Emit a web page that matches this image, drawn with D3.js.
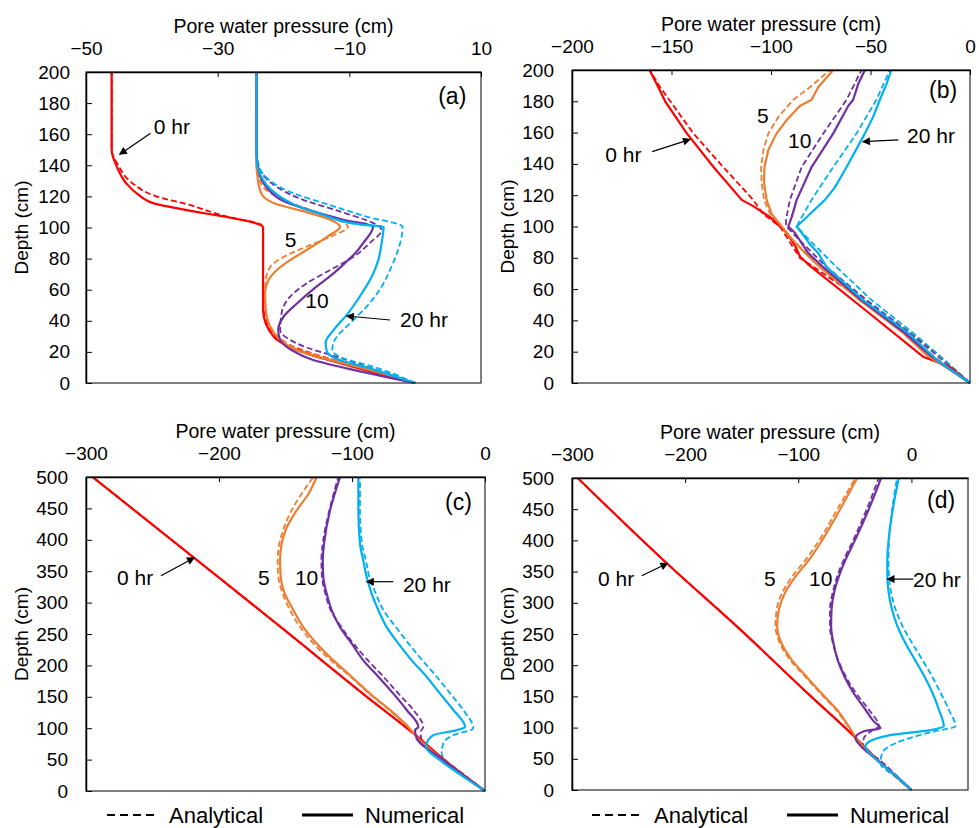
<!DOCTYPE html>
<html>
<head>
<meta charset="utf-8">
<script src="https://cdn.jsdelivr.net/npm/d3@7"></script>
<style>
  body { margin: 0; background: #fff; }
  text { font-family: Arial, "Liberation Sans", sans-serif; fill: #000; }
</style>
</head>
<body>
<script>
// series are [pressure (cm), depth (cm)] pairs
var timeLabels = ["0 hr", "5", "10", "20 hr"];
var colors = ["#ff0000", "#ed7d31", "#7030a0", "#00b0f0"];

// ---- panel (a)
var aXTicks = [-50, -30, -10, 10];
var aYTicks = [0, 20, 40, 60, 80, 100, 120, 140, 160, 180, 200];
var aNum0 = [[-46.1,200],[-46.1,150],[-45.3,139],[-43.8,128],[-42.3,122],[-39.3,115],[-35.7,112],[-23.1,100],[-23.1,57],[-23.1,47],[-21.5,29.8],[-16.5,19],[-11.4,12.7],[0,0]];
var aAna0 = [[-46.1,200],[-46.1,150],[-45.1,140],[-42.8,128],[-39.3,120],[-34.7,115],[-28.6,107],[-23.5,102],[-23.1,100],[-23.1,57],[-23.0,47],[-21.3,30],[-16,19.5],[-10.8,13],[0,0]];
var aNum5 = [[-24.1,200],[-24.1,140],[-24.0,135],[-23.7,126],[-23.1,120],[-21,115],[-17.5,111],[-12.9,105],[-11.4,100.5],[-13.4,94],[-16.5,85.5],[-19,79],[-21,72.7],[-22.3,66],[-22.8,57.7],[-22.7,47],[-22,36],[-20.5,27.7],[-18,21],[-12.9,14.8],[-6.9,8.4],[0,0]];
var aAna5 = [[-24.1,200],[-24.1,140],[-23.6,130],[-23.1,126],[-19.5,117],[-14.5,109],[-10.2,100.5],[-12.9,94],[-16.5,87.7],[-20,81],[-22,74.8],[-22.7,66],[-22.8,57],[-22.7,47],[-22,36],[-20.3,28],[-17.6,21.5],[-12.5,15],[-6.6,8.6],[0,0]];
var aNum10 = [[-24.1,200],[-24.1,150],[-23.7,135],[-22.6,126],[-20,117],[-16,111],[-10.9,105],[-6.4,100.5],[-7.9,90],[-9.1,83.4],[-10.2,79],[-12.4,70.5],[-15,62],[-18,51],[-20,42.6],[-20.8,34],[-20.5,27.7],[-18.8,21.2],[-15.5,14.8],[-10.4,9.4],[0,0]];
var aAna10 = [[-24.1,200],[-24.1,145],[-23.3,135],[-21,126],[-16.5,117],[-11.9,111],[-5.1,98.4],[-6.9,90],[-9.4,81],[-12.9,72.7],[-16.5,64],[-19,55.5],[-20.3,44.8],[-20.5,34],[-18,25.5],[-10.4,14.8],[0,0]];
var aNum20 = [[-24.1,200],[-24.1,145],[-23.3,132],[-21.8,124],[-18.5,115],[-14.5,109],[-8.4,102],[-4.8,100.5],[-5.1,90],[-5.6,79],[-6.6,68.4],[-8.1,57.7],[-10.2,44.8],[-12.4,34],[-13.6,26],[-13.4,20],[-11.9,15.5],[-6.9,9.4],[0,0]];
var aAna20 = [[-24.1,200],[-24.1,150],[-23.7,139],[-22,130],[-18.5,122],[-13.4,115],[-7.4,107],[-1.9,100.5],[-2.6,85.5],[-3.6,74.8],[-5.1,62],[-7.4,49],[-9.9,38.4],[-12.2,27.7],[-12.6,21.2],[-10.9,15.9],[-6.4,10.5],[0,0]];

// ---- panel (b)
var bXTicks = [-200, -150, -100, -50, 0];
var bYTicks = [0, 20, 40, 60, 80, 100, 120, 140, 160, 180, 200];
var bNum0 = [[-161,200],[-157,190],[-153.2,180],[-142.3,159.5],[-128.9,138],[-114.7,117],[-108.9,113],[-100.5,106],[-92.1,96],[-88,88],[-85.5,81],[-81.5,76],[-52,46],[-23.6,16.8],[-10.2,10.4],[0,0]];
var bAna0 = [[-161,200],[-155.7,189],[-139,159.5],[-124,138],[-108.9,117],[-104,108],[-95.5,100],[-85.5,80],[-38.6,40],[-17.7,20],[0,0]];
var bNum5 = [[-68.7,200],[-76.3,189],[-79.6,181],[-85.5,177],[-92.1,168],[-97.2,159.5],[-101.3,149],[-103.3,138],[-103.5,128],[-102.2,117],[-99.7,108],[-94.6,100],[-88.8,91],[-82.9,83],[-75.4,74],[-55.4,53],[-33.6,32],[-21,17],[-12,10],[0,0]];
var bAna5 = [[-70.4,200],[-80.4,189],[-88.8,181],[-96.3,170],[-101.3,159.5],[-103.8,149],[-105,138],[-104.7,128],[-103.5,117],[-99.7,106],[-95.5,100],[-88,90],[-80,80],[-54,53],[-32,32],[-19,18],[0,0]];
var bNum10 = [[-52.8,200],[-56.2,191],[-58.7,181],[-61.2,177],[-68.7,159.5],[-79.6,138],[-87.1,117],[-89.6,106],[-91.3,100],[-88,96],[-81.3,83],[-73.7,74],[-54.5,53],[-32.8,32],[-19.4,17],[0,0]];
var bAna10 = [[-54.5,200],[-62,181],[-73.7,159.5],[-84.6,138],[-90.5,117],[-92.5,104],[-92.3,100],[-85.5,91],[-72,74],[-52,53],[-30.3,32],[-16,17],[0,0]];
var bNum20 = [[-39.5,200],[-42,191],[-45.3,181],[-48.7,170],[-52.8,159.5],[-62,138],[-67.9,125],[-72.9,117],[-80.4,108],[-87.1,100],[-84.6,96],[-80,88],[-76.3,83],[-72,74],[-53.7,53],[-31.1,32],[-16.9,15],[0,0]];
var bAna20 = [[-40.3,200],[-47,181],[-57,159.5],[-68.7,138],[-79.6,117],[-85.5,104],[-87.1,100],[-80.4,91],[-67,74],[-49.5,53],[-28.6,32],[-14,16],[0,0]];

// ---- panel (c)
var cXTicks = [-300, -200, -100, 0];
var cYTicks = [0, 50, 100, 150, 200, 250, 300, 350, 400, 450, 500];
var cNum0 = [[-295,500],[-218,370],[-150,255],[-90,152],[-54,92],[-28,45],[0,0]];
var cAna0 = [[-295,500],[-218,370],[-150,255],[-90,152],[-54,92],[-28,45],[0,0]];
var cNum5 = [[-126.6,500],[-132.8,473],[-141.6,447],[-149,420],[-152.9,394],[-154.1,367],[-153.6,341],[-150.4,314],[-144.1,288],[-136.6,261],[-126.6,235],[-114,208],[-100.3,182],[-86.5,155],[-71.4,129],[-57.6,102],[-51.4,86],[-31.3,49],[-15,23],[0,0]];
var cAna5 = [[-129,500],[-138,473],[-145.4,447],[-151,420],[-154.6,394],[-155.9,367],[-155.4,341],[-152,314],[-146.6,288],[-139,261],[-129,235],[-116,208],[-101,182],[-87,155],[-72,129],[-58,102],[-52,88],[-31,49],[-15,23],[0,0]];
var cNum10 = [[-109,500],[-116.5,447],[-121,394],[-122,367],[-121.6,341],[-119,314],[-115.3,288],[-109,261],[-100.3,235],[-91.5,208],[-80.2,182],[-68.9,155],[-58.9,129],[-50.1,102],[-52.6,97],[-51.4,84],[-31.3,49],[-15,23],[0,0]];
var cAna10 = [[-110.3,500],[-117,447],[-122,394],[-123,367],[-122.6,341],[-120,314],[-116,288],[-108,261],[-99,235],[-88,208],[-76.4,182],[-65,155],[-53.9,129],[-46.4,102],[-48.5,94],[-48,84],[-30,49],[-14,23],[0,0]];
var cNum20 = [[-95.2,500],[-95.2,447],[-94,394],[-91.5,367],[-89,341],[-85.2,314],[-80.2,288],[-73.9,261],[-65.2,235],[-55.1,208],[-43.9,182],[-33.8,155],[-23.8,129],[-15,102],[-21.3,97],[-38.8,89],[-43.9,76],[-44.4,70],[-33.8,49],[-16.3,23],[0,0]];
var cAna20 = [[-94,500],[-94,447],[-92.5,394],[-89.5,367],[-87,341],[-82,314],[-76.4,288],[-67,261],[-57.6,235],[-47,208],[-36.3,182],[-26,155],[-16.3,129],[-8.8,100],[-23.8,89],[-31.3,76],[-32.6,60],[-28,45],[-21.3,33],[0,0]];

// ---- panel (d)
var dXTicks = [-300, -200, -100, 0];
var dYTicks = [0, 50, 100, 150, 200, 250, 300, 350, 400, 450, 500];
var dNum0 = [[-295,500],[-216,363],[-150,255],[-90,152],[-54,92],[-28,45],[0,0]];
var dAna0 = [[-295,500],[-216,363],[-150,255],[-90,152],[-54,92],[-28,45],[0,0]];
var dNum5 = [[-48,500],[-63,450],[-79,400],[-90,370],[-102,343],[-111.5,317],[-117,290],[-118.7,263],[-115,236],[-106,209],[-93,182],[-79.5,155],[-66,129],[-55.4,102],[-47.5,80],[-30.4,48],[-12.7,21],[0,0]];
var dAna5 = [[-49.5,500],[-65.5,450],[-81.5,400],[-93,370],[-105,343],[-114,317],[-119,290],[-120.2,263],[-116.5,236],[-107.5,209],[-94,182],[-80.5,155],[-67,129],[-56,102],[-48,80],[-30,48],[-12.5,21],[0,0]];
var dNum10 = [[-26.8,500],[-37.7,450],[-50,400],[-58,370],[-64,343],[-68.3,317],[-70.6,290],[-71,263],[-69,236],[-65.3,209],[-59.2,182],[-51,155],[-40.7,129],[-33.3,110],[-27.4,99],[-42.1,94],[-49.5,83],[-47,75],[-30.4,48],[-12.7,21],[0,0]];
var dAna10 = [[-28.9,500],[-39.5,450],[-51.5,400],[-59.5,370],[-65.5,343],[-69.5,317],[-72,290],[-72,263],[-69.5,236],[-65,209],[-58,182],[-49,155],[-37.7,129],[-28.9,102],[-34,96],[-42.1,83],[-43,70],[-28,48],[-12,21],[0,0]];
var dNum20 = [[-11.2,500],[-16.5,450],[-20.2,400],[-21.3,370],[-21.3,343],[-20.2,317],[-17.3,290],[-12.5,263],[-5.5,236],[3,209],[11.5,182],[18.8,155],[24.2,129],[28.6,102],[16.8,96],[-18.6,88],[-39.2,75],[-40.7,70],[-30.4,48],[-12.7,21],[0,0]];
var dAna20 = [[-12.7,500],[-17,450],[-19.8,400],[-20.3,370],[-19.8,343],[-18,317],[-14.1,290],[-8,263],[0.4,236],[9.5,209],[18.3,182],[26,155],[33,129],[38.9,102],[20,94],[-14.1,75],[-25.9,59],[-27.4,43],[-14.1,21],[0,0]];

// annotation anchors, in data units: [pressure, depth]
var aLabelPos = [[-39.7,160],[-19.8,87.5],[-16.7,48.2],[-2.3,36]];
var bLabelPos = [[-183.3,141.2],[-107,166.1],[-91.4,150.2],[-31.6,153.4]];
var cLabelPos = [[-276.7,328],[-170.7,328],[-142.9,328],[-61.7,317.4]];
var dLabelPos = [[-277,327.4],[-130.3,327],[-90.5,327],[1.4,325.8]];
// arrows: [from, to] for "0 hr" and "20 hr"
var aArrows = [[[-40.2,160.6],[-44.9,147]], [[-3.8,40.5],[-10.4,43.1]]];
var bArrows = [[[-159.7,147.8],[-140.6,155.7]], [[-36,155.3],[-53.9,154.2]]];
var cArrows = [[[-243.6,342.8],[-218.6,371.5]], [[-69,333.3],[-89,333.3]]];
var dArrows = [[[-238.4,343.4],[-215.4,363.3]], [[1.7,338],[-21.3,338]]];

var svg = d3.select("body").append("svg")
    .attr("width", 979)
    .attr("height", 828);

svg.append("defs").append("marker")
    .attr("id", "arrow")
    .attr("viewBox", "0 0 10 10")
    .attr("refX", 9).attr("refY", 5)
    .attr("markerUnits", "userSpaceOnUse")
    .attr("markerWidth", 9).attr("markerHeight", 8)
    .attr("orient", "auto")
  .append("path")
    .attr("d", "M0,0L10,5L0,10z")
    .attr("fill", "#000");

var panels = [
  {name: "(a)", left: 86, right: 481, top: 72, bottom: 383, xDom: [-50, 10], xTicks: aXTicks,
   yDom: [0, 200], yTicks: aYTicks, yPad: 16, curve: d3.curveMonotoneY, num: [aNum0, aNum5, aNum10, aNum20],
   ana: [aAna0, aAna5, aAna10, aAna20], labels: aLabelPos, arrows: aArrows, tag: [3.5, 179.4]},
  {name: "(b)", left: 572, right: 970, top: 70, bottom: 383, xDom: [-200, 0], xTicks: bXTicks,
   yDom: [0, 200], yTicks: bYTicks, yPad: 18, curve: d3.curveLinear, num: [bNum0, bNum5, bNum10, bNum20],
   ana: [bAna0, bAna5, bAna10, bAna20], labels: bLabelPos, arrows: bArrows, tag: [-20.6, 182.1]},
  {name: "(c)", left: 86, right: 485, top: 477, bottom: 791, xDom: [-300, 0], xTicks: cXTicks,
   yDom: [0, 500], yTicks: cYTicks, yPad: 18, curve: d3.curveMonotoneY, num: [cNum0, cNum5, cNum10, cNum20],
   ana: [cAna0, cAna5, cAna10, cAna20], labels: cLabelPos, arrows: cArrows, tag: [-30, 447.5]},
  {name: "(d)", left: 572, right: 968, top: 478, bottom: 790, xDom: [-300, 50], xTicks: dXTicks,
   yDom: [0, 500], yTicks: dYTicks, yPad: 18, curve: d3.curveMonotoneY, num: [dNum0, dNum5, dNum10, dNum20],
   ana: [dAna0, dAna5, dAna10, dAna20], labels: dLabelPos, arrows: dArrows, tag: [13.8, 452]}
];

panels.forEach(function(p) {
  var x = d3.scaleLinear().domain(p.xDom).range([p.left, p.right]);
  var y = d3.scaleLinear().domain(p.yDom).range([p.bottom, p.top]);
  var g = svg.append("g");

  var line = d3.line()
      .x(function(d) { return x(d[0]); })
      .y(function(d) { return y(d[1]); })
      .curve(p.curve);
  var sorted = function(s) { return s.slice().sort(function(a, b) { return a[1] - b[1]; }); };

  // dashed analytical first, solid numerical on top
  p.ana.forEach(function(s, i) {
    g.append("path")
        .datum(sorted(s))
        .attr("fill", "none")
        .attr("stroke", colors[i])
        .attr("stroke-width", 1.8)
        .attr("stroke-dasharray", "6,3")
        .attr("d", line);
  });
  p.num.forEach(function(s, i) {
    g.append("path")
        .datum(sorted(s))
        .attr("fill", "none")
        .attr("stroke", colors[i])
        .attr("stroke-width", 2.2)
        .attr("stroke-linejoin", "round")
        .attr("d", line);
  });

  // frame
  g.append("rect")
      .attr("x", p.left).attr("y", p.top)
      .attr("width", p.right - p.left).attr("height", p.bottom - p.top)
      .attr("fill", "none").attr("stroke", "#000").attr("stroke-width", 1);

  var xa = g.append("g")
      .attr("transform", "translate(0," + p.top + ")")
      .call(d3.axisTop(x).tickValues(p.xTicks).tickSize(-5).tickPadding(17).tickSizeOuter(0));
  xa.selectAll("text").style("font-size", "19px");
  xa.select(".domain").attr("stroke-width", 1.5);

  var ya = g.append("g")
      .attr("transform", "translate(" + p.left + ",0)")
      .call(d3.axisLeft(y).tickValues(p.yTicks).tickSize(-6).tickPadding(p.yPad).tickSizeOuter(0));
  ya.selectAll("text").style("font-size", "19px");
  ya.select(".domain").attr("stroke-width", 1.5);

  g.append("text")
      .attr("x", (p.left + p.right) / 2)
      .attr("y", p.top - 39)
      .attr("text-anchor", "middle")
      .style("font-size", "19.5px")
      .text("Pore water pressure (cm)");

  g.append("text")
      .attr("transform", "translate(" + (p.left - 58) + "," + ((p.top + p.bottom) / 2) + ") rotate(-90)")
      .attr("text-anchor", "middle")
      .style("font-size", "19px")
      .text("Depth (cm)");

  g.append("text")
      .attr("x", x(p.tag[0])).attr("y", y(p.tag[1]))
      .style("font-size", "23px")
      .text(p.name);

  p.labels.forEach(function(pos, i) {
    g.append("text")
        .attr("x", x(pos[0])).attr("y", y(pos[1]))
        .style("font-size", "21px")
        .text(timeLabels[i]);
  });

  p.arrows.forEach(function(a) {
    g.append("line")
        .attr("x1", x(a[0][0])).attr("y1", y(a[0][1]))
        .attr("x2", x(a[1][0])).attr("y2", y(a[1][1]))
        .attr("stroke", "#000").attr("stroke-width", 1.2)
        .attr("marker-end", "url(#arrow)");
  });
});

// legends under the two bottom panels
[[107, 302], [592, 787]].forEach(function(l) {
  var lg = svg.append("g");
  lg.append("line")
      .attr("x1", l[0]).attr("x2", l[0] + 50).attr("y1", 815).attr("y2", 815)
      .attr("stroke", "#000").attr("stroke-width", 2).attr("stroke-dasharray", "8,5");
  lg.append("text").attr("x", l[0] + 62).attr("y", 823).style("font-size", "22px").text("Analytical");
  lg.append("line")
      .attr("x1", l[1]).attr("x2", l[1] + 51).attr("y1", 815).attr("y2", 815)
      .attr("stroke", "#000").attr("stroke-width", 3);
  lg.append("text").attr("x", l[1] + 63).attr("y", 823).style("font-size", "22px").text("Numerical");
});
</script>
</body>
</html>
